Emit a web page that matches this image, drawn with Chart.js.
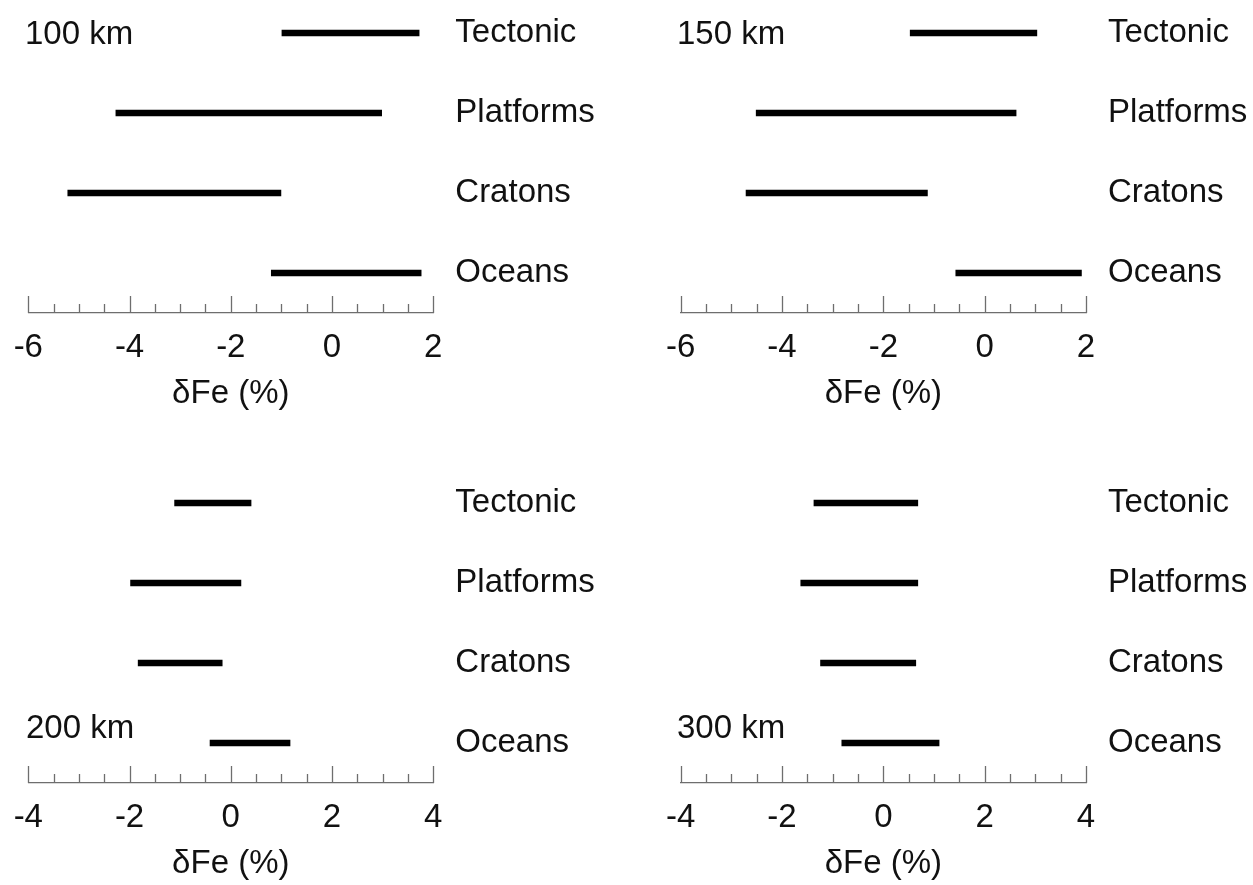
<!DOCTYPE html>
<html>
<head>
<meta charset="utf-8">
<script src="https://cdn.jsdelivr.net/npm/chart.js@4.4.1/dist/chart.umd.min.js"></script>
<style>
  body { margin: 0; background: #fff; overflow: hidden; width: 1253px; height: 885px; position: relative; }
  .panel { position: absolute; width: 626px; height: 430px; }
  .depth { position: absolute; font: 33px "Liberation Sans", Arial, sans-serif; line-height: 33px; color: #111; white-space: nowrap; }
</style>
</head>
<body>
<div class="panel" style="left:0; top:-7px;"><canvas id="p100"></canvas></div>
<div class="panel" style="left:626px; top:-7px; width:627px;"><canvas id="p150"></canvas></div>
<div class="panel" style="left:0; top:463px;"><canvas id="p200"></canvas></div>
<div class="panel" style="left:626px; top:463px; width:627px;"><canvas id="p300"></canvas></div>

<div class="depth" id="d100" style="left:25px; top:16px;"></div>
<div class="depth" id="d150" style="left:677px; top:16px;"></div>
<div class="depth" id="d200" style="left:26px; top:710px;"></div>
<div class="depth" id="d300" style="left:677px; top:710px;"></div>

<script>
// categories (top to bottom) and depth labels
const categories = ['Tectonic', 'Platforms', 'Cratons', 'Oceans'];
const depths = ['100 km', '150 km', '200 km', '300 km'];

// dFe ranges [min, max] per category
const range100 = [[-0.99, 1.72], [-4.27, 0.98], [-5.22, -1.01], [-1.20, 1.76]];
const range150 = [[-1.47, 1.03], [-4.51, 0.62], [-4.71, -1.13], [-0.57, 1.91]];
const range200 = [[-1.11, 0.40], [-1.98, 0.20], [-1.83, -0.17], [-0.41, 1.17]];
const range300 = [[-1.37, 0.68], [-1.63, 0.68], [-1.24, 0.64], [-0.82, 1.10]];

// axis limits
const axisTop = [-6, 2];
const axisBottom = [-4, 4];
const majorStep = 2;
const minorStep = 0.5;

const FONT = '"Liberation Sans", Arial, sans-serif';

// small ticks pointing up from the axis line
const innerTicks = {
  id: 'innerTicks',
  afterDraw(chart) {
    const x = chart.scales.x;
    const yb = chart.chartArea.bottom;
    const ctx = chart.ctx;
    ctx.save();
    ctx.strokeStyle = '#6e6e6e';
    ctx.lineWidth = 1.3;
    x.ticks.forEach(t => {
      const px = Math.round(x.getPixelForValue(t.value)) + 0.5;
      const isMajor = Math.abs(t.value % majorStep) < 1e-6;
      ctx.beginPath();
      ctx.moveTo(px, yb);
      ctx.lineTo(px, yb - (isMajor ? 17 : 9));
      ctx.stroke();
    });
    ctx.restore();
  }
};

function makePanel(id, ranges, limits, plotLeft, yAxisWidth) {
  new Chart(document.getElementById(id), {
    type: 'bar',
    data: {
      labels: categories,
      datasets: [{
        data: ranges,
        backgroundColor: '#000',
        borderWidth: 0,
        borderSkipped: false,
        barThickness: 6
      }]
    },
    options: {
      indexAxis: 'y',
      responsive: true,
      maintainAspectRatio: false,
      animation: false,
      layout: { padding: { left: plotLeft, top: 0, right: 0, bottom: 0 } },
      plugins: { legend: { display: false }, tooltip: { enabled: false } },
      scales: {
        x: {
          min: limits[0],
          max: limits[1],
          grid: { display: false },
          border: { display: true, color: '#6e6e6e', width: 1.3 },
          ticks: {
            stepSize: minorStep,
            autoSkip: false,
            maxRotation: 0,
            padding: 7,
            color: '#111',
            font: { family: FONT, size: 33 },
            callback: v => (Math.abs(v % majorStep) < 1e-6 ? String(v) : '')
          },
          title: {
            display: true,
            text: 'δFe (%)',
            color: '#111',
            font: { family: FONT, size: 33 },
            padding: { top: 0, bottom: 9 }
          },
          afterFit: scale => { scale.height = 110; }
        },
        y: {
          position: 'right',
          grid: { display: false },
          border: { display: false },
          ticks: {
            padding: 14,
            color: '#111',
            font: { family: FONT, size: 33 }
          },
          afterFit: scale => {
            scale.width = yAxisWidth;
            scale.paddingTop = 0;
            scale.paddingBottom = 0;
          }
        }
      }
    },
    plugins: [innerTicks]
  });
}

makePanel('p100', range100, axisTop, 28.3, 626 - 433.3);
makePanel('p150', range150, axisTop, 54.7, 1253 - 1086);
makePanel('p200', range200, axisBottom, 28.3, 626 - 433.3);
makePanel('p300', range300, axisBottom, 54.7, 1253 - 1086);

document.getElementById('d100').textContent = depths[0];
document.getElementById('d150').textContent = depths[1];
document.getElementById('d200').textContent = depths[2];
document.getElementById('d300').textContent = depths[3];
</script>
</body>
</html>
